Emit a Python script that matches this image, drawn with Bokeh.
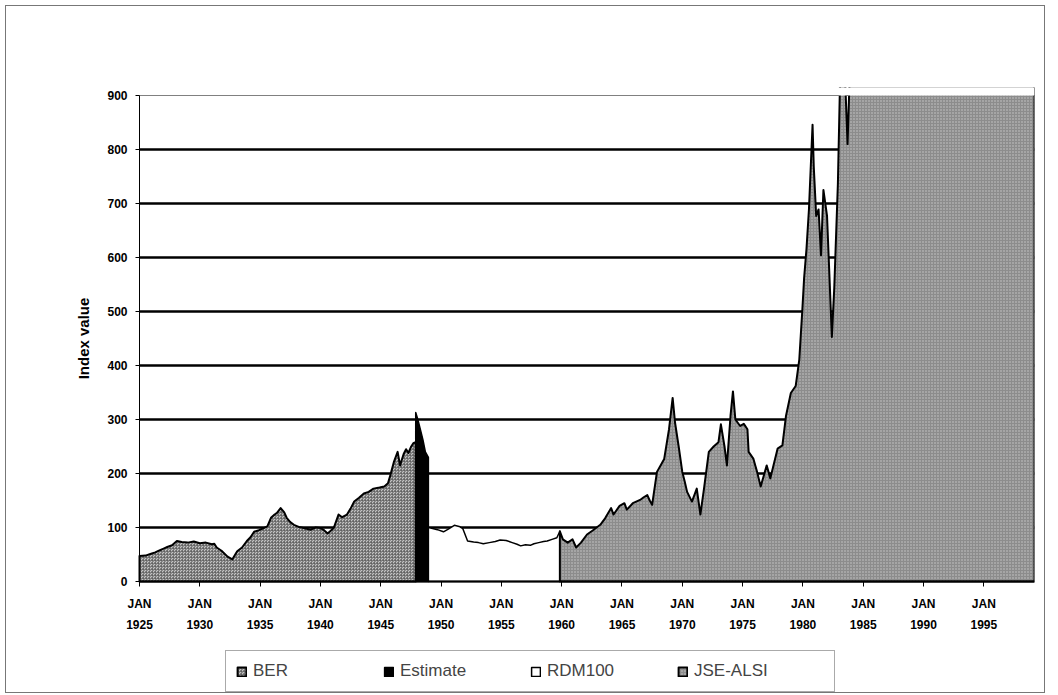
from bokeh.plotting import figure
from bokeh.models import Range1d, FixedTicker, Legend, LegendItem, BoxAnnotation
from bokeh.embed import file_html
from bokeh.resources import INLINE

# ---- data ----
ber_years = [1925.0, 1925.5, 1925.9, 1926.3, 1926.7, 1927.0, 1927.3, 1927.7, 1928.1, 1928.5, 1929.0, 1929.5,
             1930.0, 1930.5, 1931.0, 1931.2, 1931.4, 1931.8, 1932.3, 1932.7, 1933.1, 1933.5, 1933.9, 1934.2,
             1934.5, 1934.9, 1935.3, 1935.6, 1935.9, 1936.2, 1936.4, 1936.7, 1937.0, 1937.2, 1937.5, 1937.8,
             1938.2, 1938.6, 1939.2, 1939.6, 1940.0, 1940.3, 1940.6, 1940.9, 1941.1, 1941.5, 1941.8, 1942.2,
             1942.5, 1942.8, 1943.2, 1943.6, 1944.0, 1944.4, 1944.9, 1945.3, 1945.6, 1945.8, 1946.1, 1946.4,
             1946.6, 1946.9, 1947.1, 1947.3, 1947.5, 1947.7, 1947.9]
ber_values = [47, 48, 51, 54, 58, 61, 64, 67, 75, 73, 72, 74,
              71, 72, 69, 70, 63, 57, 46, 41, 56, 63, 75, 82,
              92, 95, 99, 102, 118, 124, 127, 136, 128, 118, 110, 105,
              101, 99, 96, 100, 99, 95, 89, 95, 99, 124, 119, 124,
              135, 148, 155, 163, 166, 172, 174, 176, 182, 197, 222, 240,
              215, 236, 245, 238, 249, 256, 258]

est_years = [1947.9, 1948.1, 1948.3, 1948.5, 1948.7, 1948.95]
est_values = [313, 298, 280, 262, 240, 230]

rdm_years = [1948.95, 1949.3, 1949.7, 1950.2, 1950.6, 1951.1, 1951.5, 1951.8, 1952.2, 1952.7, 1953.1, 1953.5,
             1954.0, 1954.5, 1954.9, 1955.4, 1955.9, 1956.3, 1956.6, 1957.0, 1957.4, 1957.7, 1958.1, 1958.5,
             1958.8, 1959.2, 1959.6, 1959.85]
rdm_values = [100, 98, 96, 92, 97, 104, 102, 98, 75, 73, 72, 70,
              72, 74, 77, 76, 72, 69, 66, 68, 67, 70, 72, 74,
              75, 78, 81, 93]

jse_years = [1959.85, 1960.1, 1960.5, 1960.9, 1961.2, 1961.6, 1962.1, 1962.6, 1963.2, 1963.6, 1964.1, 1964.3,
             1964.8, 1965.2, 1965.4, 1965.9, 1966.5, 1966.8, 1967.1, 1967.3, 1967.5, 1967.9, 1968.2, 1968.5,
             1968.9, 1969.2, 1969.4, 1969.7, 1970.0, 1970.2, 1970.4, 1970.8, 1971.2, 1971.5, 1971.8, 1972.2,
             1972.6, 1973.0, 1973.2, 1973.5, 1973.7, 1974.0, 1974.2, 1974.4, 1974.8, 1975.1, 1975.4, 1975.5,
             1975.9, 1976.2, 1976.5, 1977.0, 1977.3, 1977.9, 1978.3, 1978.6, 1979.0, 1979.4, 1979.7, 1979.95,
             1980.1, 1980.3, 1980.5, 1980.8, 1980.9, 1981.1, 1981.3, 1981.5, 1981.7, 1982.0, 1982.4, 1982.6,
             1982.9, 1983.1, 1983.5, 1983.7, 1983.9, 1984.5, 1985.0, 1986.0, 1987.0, 1988.0, 1989.0, 1990.0,
             1991.0, 1992.0, 1993.0, 1994.0, 1995.0, 1996.0, 1997.0, 1998.0, 1999.2]
jse_values = [93, 78, 72, 78, 63, 72, 87, 95, 105, 117, 136, 124,
              140, 145, 133, 145, 151, 156, 160, 150, 142, 203, 215, 227,
              282, 340, 294, 250, 203, 185, 166, 148, 172, 124, 172, 240,
              250, 258, 291, 250, 215, 307, 352, 300, 288, 292, 282, 240,
              227, 203, 176, 215, 191, 246, 252, 307, 349, 362, 411, 502,
              562, 617, 689, 846, 768, 677, 689, 604, 725, 677, 453, 544,
              737, 950, 930, 810, 950, 1000, 1100, 1500, 2200, 2000, 2800, 2900,
              3500, 3200, 4500, 5800, 6200, 6700, 6200, 5800, 7000]

x_ticks = [1925, 1930, 1935, 1940, 1945, 1950, 1955, 1960, 1965, 1970, 1975, 1980, 1985, 1990, 1995]
x_tick_labels = {t: "JAN\n%d" % t for t in x_ticks}
y_ticks = [0, 100, 200, 300, 400, 500, 600, 700, 800, 900]
grid_ticks = [100, 200, 300, 400, 500, 600, 700, 800, 900]

X0, X1 = 1925, 1999.2   # data extent of the chart
Y0, Y1 = 0, 900


def closed(xs, ys):
    return [xs[0]] + list(xs) + [xs[-1]], [0] + list(ys) + [0]


FONT = "Liberation Sans"

# the frame is widened/extended so that the fixed axes' labels and the legend live inside it
p = figure(width=1040, height=688, output_backend="svg", toolbar_location=None,
           x_range=Range1d(1918.45, X1), y_range=Range1d(-209.26, 914.815),
           min_border_left=54, min_border_right=12, min_border_top=81, min_border_bottom=0)
p.styles = {"border": "1px solid #777777", "margin-left": "5px", "margin-top": "5px"}
p.outline_line_color = None
p.background_fill_color = "white"
p.border_fill_color = "white"
p.xgrid.visible = False
p.ygrid.visible = False

# horizontal grid lines limited to the chart extent
n = len(grid_ticks)
p.segment(x0=[X0] * n, x1=[X1] * n, y0=grid_ticks, y1=grid_ticks,
          line_color="black", line_width=[2.5] * (n - 1) + [1.2])

# series
bx, by = closed(ber_years, ber_values)
r_ber = p.patch(bx, by, fill_color="#c4c4c4", hatch_pattern="criss_cross", hatch_scale=3,
                hatch_color="#5a5a5a", hatch_weight=0.6, line_color="black", line_width=2,
                line_join="round")
ex, ey = closed(est_years, est_values)
r_est = p.patch(ex, ey, fill_color="black", line_color="black", line_width=1.5, line_join="round")
rx, ry = closed(rdm_years, rdm_values)
r_rdm = p.patch(rx, ry, fill_color="white", line_color="black", line_width=1.5, line_join="round")
jx, jy = closed(jse_years, jse_values)
r_jse = p.patch(jx, jy, fill_color="#8c8c8c", hatch_pattern="dot", hatch_scale=3,
                hatch_color="white", hatch_alpha=0.55, hatch_weight=1, line_color="black", line_width=2,
                line_join="round")

# the chart is cut off at the top of the value axis
p.add_layout(BoxAnnotation(bottom=Y1, left=X0, fill_color="white", fill_alpha=1,
                           line_alpha=0, level="glyph"))

# axes
xa = p.xaxis[0]
xa.fixed_location = Y0
xa.bounds = (X0, X1)
xa.ticker = FixedTicker(ticks=x_ticks)
xa.major_label_overrides = x_tick_labels
xa.axis_line_color = "black"
xa.axis_line_width = 2
xa.major_tick_line_color = "black"
xa.major_tick_out = 5
xa.major_tick_in = 0
xa.minor_tick_line_color = None
xa.major_label_text_font = FONT
xa.major_label_text_font_style = "bold"
xa.major_label_text_font_size = "12px"
xa.major_label_text_color = "black"
xa.major_label_text_line_height = 1.5
xa.major_label_standoff = 11

ya = p.yaxis[0]
ya.fixed_location = X0
ya.ticker = FixedTicker(ticks=y_ticks)
ya.bounds = (Y0, Y1)
ya.axis_line_color = "black"
ya.axis_line_width = 1
ya.major_tick_line_color = "black"
ya.major_tick_out = 4
ya.major_tick_in = 0
ya.minor_tick_line_color = None
ya.major_label_text_font = FONT
ya.major_label_text_font_style = "bold"
ya.major_label_text_font_size = "12px"
ya.major_label_text_color = "black"
ya.major_label_standoff = 8
ya.axis_label = "Index value"
ya.axis_label_text_font = FONT
ya.axis_label_text_font_style = "bold"
ya.axis_label_text_font_size = "15px"
ya.axis_label_text_color = "black"
ya.axis_label_standoff = 12

legend = Legend(items=[LegendItem(label="BER", renderers=[r_ber]),
                       LegendItem(label="Estimate", renderers=[r_est]),
                       LegendItem(label="RDM100", renderers=[r_rdm]),
                       LegendItem(label="JSE-ALSI", renderers=[r_jse])],
                orientation="horizontal", location=(165, 2),
                padding=10, spacing=0, glyph_width=11, glyph_height=11, label_standoff=6,
                label_width=130, label_text_font=FONT, label_text_font_size="17px",
                border_line_color="#555555", border_line_width=1,
                background_fill_color="white", background_fill_alpha=1)
p.add_layout(legend, "center")

open("out.html", "w").write(file_html(p, INLINE))
